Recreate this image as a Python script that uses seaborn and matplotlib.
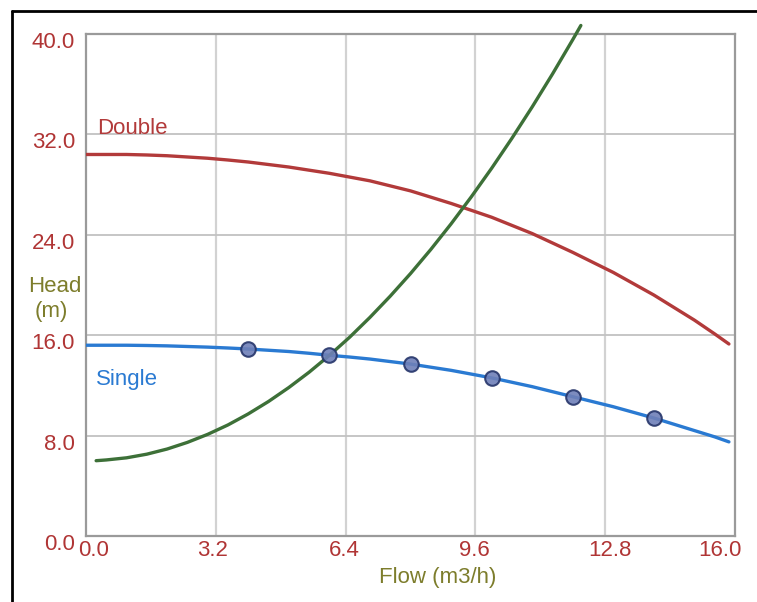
import matplotlib
matplotlib.use("Agg")
import matplotlib.pyplot as plt
import matplotlib.transforms as mtransforms
from matplotlib.lines import Line2D
import seaborn as sns
import pandas as pd

# ---- data ----
flow_curve = [0, 0.5, 1, 1.5, 2, 2.5, 3, 3.5, 4, 4.5, 5, 5.5, 6, 6.5, 7, 7.5, 8, 8.5,
              9, 9.5, 10, 10.5, 11, 11.5, 12, 12.5, 13, 13.5, 14, 14.5, 15, 15.5, 15.85]
head_single = [15.2, 15.2, 15.2, 15.18, 15.15, 15.1, 15.05, 14.98, 14.9, 14.8, 14.7, 14.56,
               14.4, 14.26, 14.1, 13.9, 13.7, 13.45, 13.2, 12.9, 12.6, 12.25, 11.9, 11.5,
               11.1, 10.7, 10.3, 9.85, 9.4, 8.9, 8.4, 7.9, 7.5]
head_double = [30.4, 30.4, 30.4, 30.36, 30.3, 30.2, 30.1, 29.96, 29.8, 29.6, 29.4, 29.15,
               28.9, 28.6, 28.3, 27.9, 27.5, 27.0, 26.5, 25.95, 25.4, 24.75, 24.1, 23.35,
               22.6, 21.8, 21.0, 20.1, 19.2, 18.2, 17.2, 16.1, 15.3]

flow_system = [0.25, 0.5, 1, 1.5, 2, 2.5, 3, 3.5, 4, 4.5, 5, 5.5, 6, 6.5, 7, 7.5, 8, 8.5,
               9, 9.5, 10, 10.5, 11, 11.5, 12, 12.2]
head_system = [6.0, 6.06, 6.23, 6.52, 6.93, 7.46, 8.1, 8.85, 9.73, 10.72, 11.83, 13.05,
               14.39, 15.84, 17.42, 19.11, 20.91, 22.83, 24.87, 27.03, 29.3, 31.69, 34.19,
               36.81, 39.55, 40.68]

flow_points = [4, 6, 8, 10, 12, 14]
head_points = [14.9, 14.4, 13.7, 12.6, 11.1, 9.4]

x_ticks = [0.0, 3.2, 6.4, 9.6, 12.8, 16.0]
x_tick_labels = ["0.0", "3.2", "6.4", "9.6", "12.8", "16.0"]
y_ticks = [0.0, 8.0, 16.0, 24.0, 32.0, 40.0]
y_tick_labels = ["0.0", "8.0", "16.0", "24.0", "32.0", "40.0"]

df_curves = pd.DataFrame({"flow": flow_curve, "single": head_single, "double": head_double})
df_system = pd.DataFrame({"flow": flow_system, "head": head_system})
df_points = pd.DataFrame({"flow": flow_points, "head": head_points})

# ---- style ----
sns.set_theme(style="white")
plt.rcParams["font.family"] = ["Liberation Sans", "DejaVu Sans"]

RED = "#b23a3a"
TICK_RED = "#b03535"
BLUE = "#2a7ad2"
GREEN = "#3d7038"
OLIVE = "#7d7d2c"
FS = 16

W, H = 757, 602
fig = plt.figure(figsize=(W / 100, H / 100), dpi=100)
fig.patch.set_facecolor("white")
ax = fig.add_axes([86 / W, 1 - 536 / H, 649 / W, 502 / H])

ax.set_xlim(0, 16)
ax.set_ylim(0, 40)

# grid
for xv in x_ticks[1:-1]:
    ax.axvline(xv, color="#d2d2d2", lw=1.6, zorder=0)
for yv in y_ticks[1:-1]:
    ax.axhline(yv, color="#c2c2c2", lw=1.3, zorder=0)

sns.lineplot(data=df_curves, x="flow", y="double", ax=ax, color=RED, lw=2.4, zorder=3)
sns.lineplot(data=df_curves, x="flow", y="single", ax=ax, color=BLUE, lw=2.4, zorder=3)
sns.lineplot(data=df_system, x="flow", y="head", ax=ax, color=GREEN, lw=2.4, zorder=4,
             clip_on=False, sort=False)
sns.scatterplot(data=df_points, x="flow", y="head", ax=ax, s=110, color="#6f80b8",
                edgecolor="#26356a", linewidth=1.5, alpha=0.9, zorder=5)

for sp in ax.spines.values():
    sp.set_color("#9a9a9a")
    sp.set_linewidth(1.6)

ax.set_xticks(x_ticks)
ax.set_xticklabels(x_tick_labels)
ax.set_yticks(y_ticks)
ax.set_yticklabels(y_tick_labels)
ax.tick_params(axis="both", length=0, labelsize=FS, labelcolor=TICK_RED)
ax.tick_params(axis="x", pad=3)
ax.tick_params(axis="y", pad=8)
ax.set_xlabel("")
ax.set_ylabel("")

# tick label offsets
x_offsets = [8, -3, -1, -1, 5, -15]
for lab, dx in zip(ax.get_xticklabels(), x_offsets):
    lab.set_transform(lab.get_transform() + mtransforms.ScaledTranslation(dx / 100, 0, fig.dpi_scale_trans))
for lab in ax.get_yticklabels():
    lab.set_transform(lab.get_transform() + mtransforms.ScaledTranslation(0, -6 / 100, fig.dpi_scale_trans))

# in-plot labels
ax.text(0.28, 32.0, "Double", color=RED, fontsize=FS, ha="left", va="baseline")
ax.text(0.25, 12.0, "Single", color=BLUE, fontsize=FS, ha="left", va="baseline")

# axis titles
fig.text(55 / W, 1 - 286 / H, "Head", color=OLIVE, fontsize=FS, ha="center", va="center")
fig.text(51.5 / W, 1 - 311 / H, "(m)", color=OLIVE, fontsize=FS, ha="center", va="center")
fig.text(438 / W, 1 - 577 / H, "Flow (m3/h)", color=OLIVE, fontsize=FS, ha="center", va="center")

# outer frame (left and top)
fig.add_artist(Line2D([12 / W, 12 / W], [0, 1 - 11 / H], color="black", lw=2, transform=fig.transFigure))
fig.add_artist(Line2D([12 / W, 1], [1 - 11 / H, 1 - 11 / H], color="black", lw=2, transform=fig.transFigure))

fig.savefig("out.png", dpi=100)
